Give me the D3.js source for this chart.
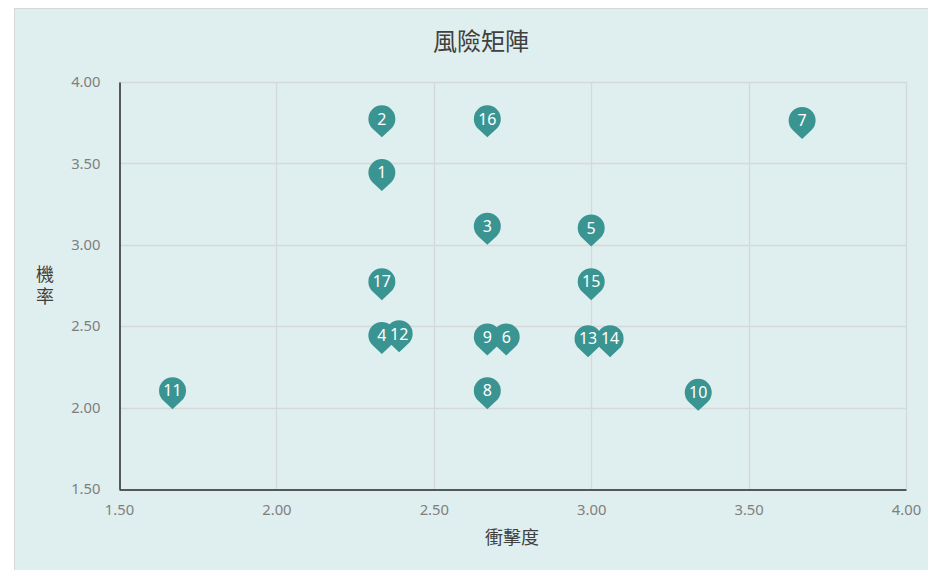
<!DOCTYPE html>
<html>
<head>
<meta charset="utf-8">
<script src="https://cdn.jsdelivr.net/npm/d3@7"></script>
<style>
  html, body { margin: 0; padding: 0; background: #ffffff; }
  svg { display: block; }
</style>
</head>
<body>
<script>
// Risk items: id, impact (x) and probability (y)
const riskIds     = [1, 2, 3, 4, 5, 6, 7, 8, 9, 10, 11, 12, 13, 14, 15, 16, 17];
const impact      = [2.335, 2.335, 2.67, 2.335, 3.00, 2.73, 3.67, 2.67, 2.67, 3.34, 1.67, 2.39, 2.99, 3.06, 3.00, 2.67, 2.335];
const probability = [3.33, 3.66, 3.00, 2.33, 2.99, 2.32, 3.65, 1.99, 2.32, 1.98, 1.99, 2.34, 2.31, 2.31, 2.66, 3.66, 2.66];
const xTicks = [1.5, 2.0, 2.5, 3.0, 3.5, 4.0];
const yTicks = [1.5, 2.0, 2.5, 3.0, 3.5, 4.0];
const chartTitle = "風險矩陣";
const xTitle = "衝擊度";
const yTitle = "機率";

const W = 928, H = 570;
const plot = { left: 119, right: 906, top: 82, bottom: 489 };
const teal = "#3a9592";
const cjk = "'Noto Sans CJK TC', 'Noto Sans CJK SC', sans-serif";
const latin = "'Noto Sans', 'Open Sans', sans-serif";

const svg = d3.select("body").append("svg")
  .attr("width", W).attr("height", H);

// chart background with thin frame
svg.append("rect")
  .attr("x", 14.5).attr("y", 8.5)
  .attr("width", W).attr("height", H)
  .attr("fill", "#dfeeee").attr("stroke", "#d5d9d9").attr("stroke-width", 1);

const x = d3.scaleLinear().domain([1.5, 4.0]).range([plot.left, plot.right]);
const y = d3.scaleLinear().domain([1.5, 4.0]).range([plot.bottom, plot.top]);

// gridlines
const grid = svg.append("g").attr("stroke", "#d6d9da").attr("stroke-width", 1.3);
xTicks.slice(1).forEach(t => {
  grid.append("line")
    .attr("x1", Math.round(x(t)) + 0.5).attr("x2", Math.round(x(t)) + 0.5)
    .attr("y1", plot.top).attr("y2", plot.bottom);
});
yTicks.slice(1).forEach(t => {
  grid.append("line")
    .attr("x1", plot.left).attr("x2", plot.right)
    .attr("y1", Math.round(y(t)) + 0.5).attr("y2", Math.round(y(t)) + 0.5);
});

// axes
const xAxis = d3.axisBottom(x).tickValues(xTicks).tickFormat(d3.format(".2f")).tickSize(0).tickPadding(15);
const yAxis = d3.axisLeft(y).tickValues(yTicks).tickFormat(d3.format(".2f")).tickSize(0).tickPadding(19);

const gx = svg.append("g").attr("transform", `translate(0,${plot.bottom + 0.5})`).call(xAxis);
const gy = svg.append("g").attr("transform", `translate(${plot.left + 0.5},0)`).call(yAxis);
[gx, gy].forEach(g => {
  g.select(".domain").attr("stroke", "#262626").attr("stroke-width", 1.5);
  g.selectAll("text")
    .attr("fill", "#7f7f7f")
    .style("font-family", latin)
    .style("font-size", "14.8px");
});

// title and axis titles
svg.append("text")
  .attr("x", 481).attr("y", 50)
  .attr("text-anchor", "middle")
  .style("font-family", cjk).style("font-size", "24px")
  .attr("fill", "#404040")
  .text(chartTitle);

svg.append("text")
  .attr("x", 512).attr("y", 544)
  .attr("text-anchor", "middle")
  .style("font-family", cjk).style("font-size", "18px")
  .attr("fill", "#404040")
  .text(xTitle);

// vertical (stacked) y-axis title
svg.append("text")
  .attr("x", 45).attr("y", 287)
  .attr("text-anchor", "middle")
  .style("writing-mode", "vertical-rl")
  .style("text-orientation", "upright")
  .style("letter-spacing", "4px")
  .style("font-family", cjk).style("font-size", "18px")
  .attr("fill", "#404040")
  .text(yTitle);

// pin markers: tip sits on the data point
const r = 13.5, d = 18.5;
const phi = Math.acos(r / d);
function pinPath(px, py) {
  const cx = px, cy = py - d;
  const rx = cx + r * Math.sin(phi), ry = cy + r * Math.cos(phi);
  const lx = cx - r * Math.sin(phi);
  return `M${px},${py}L${rx},${ry}A${r},${r} 0 1 0 ${lx},${ry}Z`;
}

const data = riskIds.map((id, i) => ({ id, xv: impact[i], yv: probability[i] }));

const pins = svg.append("g").selectAll("g").data(data).join("g");
pins.append("path")
  .attr("d", p => pinPath(x(p.xv), y(p.yv)))
  .attr("fill", teal);
pins.append("text")
  .attr("x", p => x(p.xv))
  .attr("y", p => y(p.yv) - d)
  .attr("dy", "0.36em")
  .attr("text-anchor", "middle")
  .attr("fill", "#ffffff")
  .style("font-family", latin)
  .style("font-size", "16px")
  .text(p => p.id);
</script>
</body>
</html>
